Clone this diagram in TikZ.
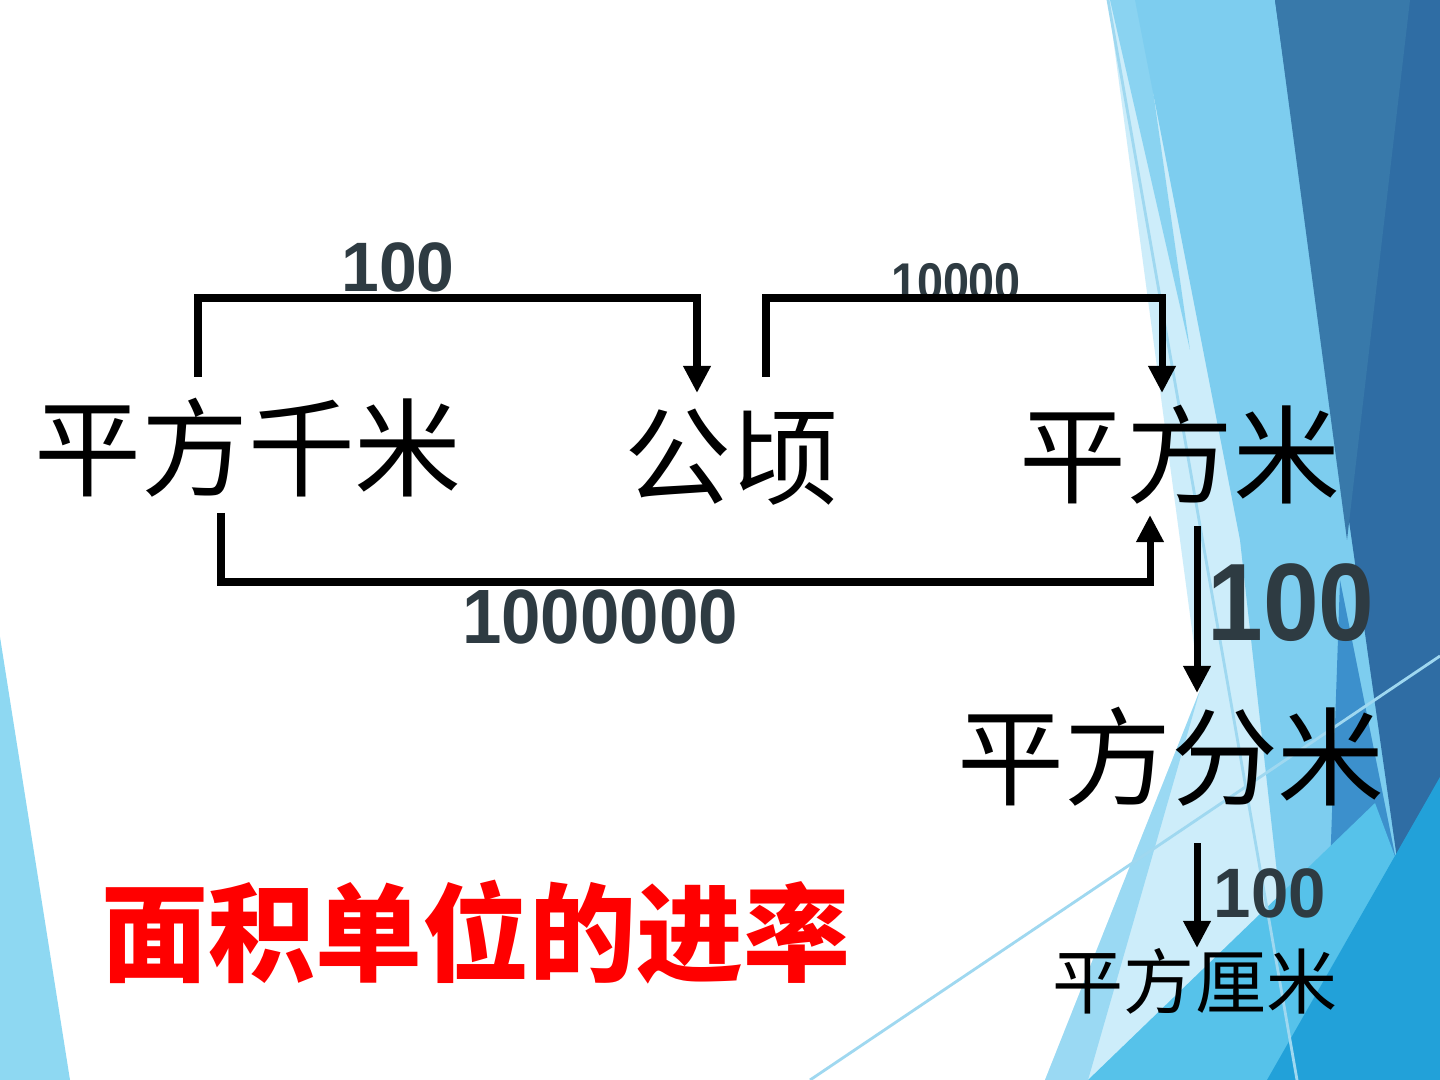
\documentclass[tikz,border=0pt]{standalone}
\usepackage{fontspec}
\newfontfamily\cjk{Noto Sans CJK SC}
\newfontfamily\numfont{Liberation Sans}
\usetikzlibrary{arrows.meta,calc}
\definecolor{numc}{HTML}{2E3B42}
\definecolor{bgpale}{HTML}{CDEDFA}
\definecolor{bglight}{HTML}{7DCDEF}
\definecolor{bgtop}{HTML}{8AD3F1}
\definecolor{bgband}{HTML}{9AD9F3}
\definecolor{bgmid}{HTML}{56C2EA}
\definecolor{bgdark}{HTML}{2F6DA4}
\definecolor{bgdarkl}{HTML}{3879AA}
\definecolor{bgmed}{HTML}{3C90CC}
\definecolor{bgtri}{HTML}{22A1D9}
\definecolor{bgthin}{HTML}{9FD8F0}
\definecolor{bgleft}{HTML}{8ED8F2}
\begin{document}
\begin{tikzpicture}[x=0.01cm,y=-0.01cm,
  unitlbl/.style={inner sep=0pt,font=\cjk\fontsize{30.4}{32}\selectfont},
  smallunit/.style={inner sep=0pt,font=\cjk\fontsize{20.2}{22}\selectfont},
  titlelbl/.style={inner sep=0pt,text=red,font=\cjk\bfseries\fontsize{30.4}{32}\selectfont},
  numlbl/.style={inner sep=0pt,text=numc},
  conn/.style={line width=2pt,line join=miter,-{Triangle[width=7.4pt,length=7.7pt]}}]
\useasboundingbox (0,0) rectangle (1440,1080);
\fill[white] (0,0) rectangle (1440,1080);
% background facets
\fill[bgleft] (0,637) -- (70,1080) -- (0,1080) -- cycle;
\fill[bgpale] (1108,0) -- (1440,0) -- (1440,1080) -- (1045,1080) -- (1200,690) -- cycle;
\fill[bgtop] (1110,0) -- (1140,0) -- (1190,350) -- cycle;
\fill[bglight] (1135,0) -- (1440,0) -- (1440,1080) -- (1300,1080) -- (1240,540) -- cycle;
\fill[bgband] (1200,690) -- (1045,1080) -- (1088,1080) -- cycle;
\fill[bgdark] (1275,0) -- (1440,0) -- (1440,880) -- (1400,880) -- cycle;
\fill[bgdarkl] (1275,0) -- (1410,0) -- (1347,540) -- cycle;
\fill[bgmed] (1340,580) -- (1398,870) -- (1330,870) -- cycle;
\fill[bgmid] (1088,1080) -- (1375,803) -- (1400,870) -- (1440,1080) -- cycle;
\fill[bgtri] (1267,1080) -- (1440,777) -- (1440,1080) -- cycle;
\draw[bgthin,line width=0.8pt] (1108,0) -- (1297,1080);
\draw[bgthin,line width=0.8pt] (810,1080) -- (1440,656);
% unit nodes
\node[unitlbl] (km) at (248,448) {平方千米};
\node[unitlbl] (ha) at (731,457) {公顷};
\node[unitlbl] (m2) at (1180,455) {平方米};
\node[unitlbl] (dm) at (1171,757) {平方分米};
\node[smallunit] (cm) at (1195,981) {平方厘米};
\node[titlelbl] (title) at (476,932) {面积单位的进率};
% numbers
\node[numlbl,xscale=0.97,font=\numfont\bfseries\fontsize{19.9}{22}\selectfont] (n1) at (398,267) {100};
\node[numlbl,xscale=0.88,font=\numfont\bfseries\fontsize{15.1}{17}\selectfont] (n2) at (956,282) {10000};
\node[numlbl,xscale=0.92,font=\numfont\bfseries\fontsize{21.9}{24}\selectfont] (n3) at (600,617) {1000000};
\node[numlbl,xscale=0.91,font=\numfont\bfseries\fontsize{31.3}{34}\selectfont] (n4) at (1291,603) {100};
\node[numlbl,xscale=0.96,font=\numfont\bfseries\fontsize{19.9}{22}\selectfont] (n5) at (1270,893) {100};
% connectors
\draw[conn] ($(km.center)+(-50,-71)$) -- ++(0,-79) -| ($(ha.center)+(-34,-64)$);
\draw[conn] ($(ha.center)+(35,-80)$) -- ++(0,-79) -| ($(m2.center)+(-18,-62)$);
\draw[conn] ($(km.center)+(-27,65)$) -- ++(0,69) -| ($(m2.center)+(-30,60)$);
\draw[conn] ($(m2.center)+(17,71)$) -- ($(dm.center)+(26,-64)$);
\draw[conn] ($(dm.center)+(26,86)$) -- ($(cm.center)+(2,-33)$);
\end{tikzpicture}
\end{document}
